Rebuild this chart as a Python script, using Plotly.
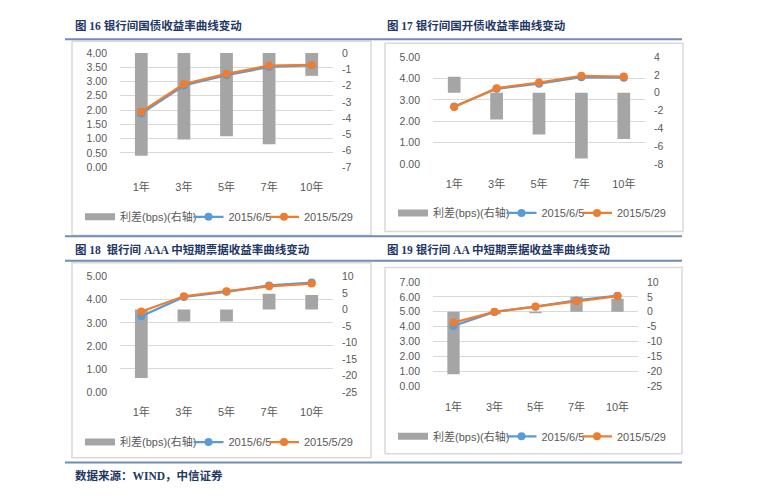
import plotly.graph_objects as go

# page is 761x500; the html body keeps its default 8px margin, so the figure is 745x484
OX, OY = 8, 8
FW, FH = 745, 484


def px(x):
    return (x - OX) / FW


def py(y):
    return 1 - (y - OY) / FH


categories = ["1年", "3年", "5年", "7年", "10年"]
series_names = ["利差(bps)(右轴)", "2015/6/5", "2015/5/29"]

titles = [
    "图 16 银行间国债收益率曲线变动",
    "图 17 银行间国开债收益率曲线变动",
    "图 18  银行间 AAA 中短期票据收益率曲线变动",
    "图 19 银行间 AA 中短期票据收益率曲线变动",
]
source_text = "数据来源：WIND，中信证券"

c16_spread = [-6.3, -5.3, -5.1, -5.6, -1.4]
c16_0605 = [1.88, 2.86, 3.22, 3.51, 3.57]
c16_0529 = [1.94, 2.91, 3.27, 3.56, 3.58]

c17_spread = [1.8, -3.0, -4.7, -7.4, -5.2]
c17_0605 = [2.69, 3.52, 3.76, 4.06, 4.04]
c17_0529 = [2.67, 3.55, 3.81, 4.13, 4.09]

c18_spread = [-20.7, -3.6, -3.6, 4.8, 4.4]
c18_0605 = [3.28, 4.12, 4.34, 4.62, 4.74]
c18_0529 = [3.49, 4.15, 4.37, 4.58, 4.70]

c19_spread = [-20.9, -0.8, -0.5, 5.0, 4.4]
c19_0605 = [4.05, 4.99, 5.34, 5.76, 6.08]
c19_0529 = [4.28, 5.00, 5.35, 5.70, 6.05]

# right-axis tick labels (bps)
c16_right_ticks = [-7, -6, -5, -4, -3, -2, -1, 0]
c17_right_ticks = [-8, -6, -4, -2, 0, 2, 4]
c18_right_ticks = [-25, -20, -15, -10, -5, 0, 5, 10]
c19_right_ticks = [-25, -20, -15, -10, -5, 0, 5, 10]
# left-axis tick labels (%)
c16_left_ticks = [0, 0.5, 1, 1.5, 2, 2.5, 3, 3.5, 4]
c17_left_ticks = [0, 1, 2, 3, 4, 5]
c18_left_ticks = [0, 1, 2, 3, 4, 5]
c19_left_ticks = [0, 1, 2, 3, 4, 5, 6, 7]

data = [
    (c16_spread, c16_0605, c16_0529, c16_left_ticks, c16_right_ticks),
    (c17_spread, c17_0605, c17_0529, c17_left_ticks, c17_right_ticks),
    (c18_spread, c18_0605, c18_0529, c18_left_ticks, c18_right_ticks),
    (c19_spread, c19_0605, c19_0529, c19_left_ticks, c19_right_ticks),
]

# layout geometry in page pixels
panels = [
    dict(px=(120, 333), py=(48, 165), box=(72, 36, 371, 235), title=(73, 20), legend_y=216),
    dict(px=(433, 645), py=(52.3, 161.7), box=(385, 38, 683, 231), title=(385, 20), legend_y=212),
    dict(px=(120, 333), py=(277.3, 395.7), box=(72, 263, 371, 463), title=(73, 249), legend_y=447),
    dict(px=(433, 638), py=(282.7, 390), box=(385, 268, 682, 459), title=(385, 249), legend_y=441),
]
legend_text_offsets = [48, 156.5, 232]  # text start of each legend item from the box's left edge

GRAY = "#595959"
NAVY = "#1F3864"
FONT = "Liberation Sans, Noto Sans CJK SC, sans-serif"
TFONT = "Liberation Serif, Noto Sans CJK SC, serif"

fig = go.Figure()
layout = dict(
    width=FW, height=FH, margin=dict(l=0, r=0, t=0, b=0),
    paper_bgcolor="white", plot_bgcolor="rgba(0,0,0,0)",
    font=dict(family=FONT, color=GRAY, size=10.5),
    showlegend=True, shapes=[], annotations=[],
)

legend_n = 0
for i, (p, (spread, s605, s529, lticks, rticks)) in enumerate(zip(panels, data)):
    k = i + 1
    xa = "x" if k == 1 else f"x{k}"
    yb = f"y{2*k-1}" if k > 1 else "y"
    yl = f"y{2*k}"
    xd = [px(p["px"][0]), px(p["px"][1])]
    yd = [py(p["py"][1]), py(p["py"][0])]
    bx0, by0, bx1, by1 = p["box"]

    lgs = []
    for j in range(3):
        legend_n += 1
        lg = "legend" if legend_n == 1 else f"legend{legend_n}"
        lgs.append(lg)
        layout[lg] = dict(orientation="h", x=px(bx0 + legend_text_offsets[j] - 40),
                          y=py(p["legend_y"]), xanchor="left", yanchor="middle",
                          font=dict(size=11, color=GRAY, family=FONT), itemwidth=30,
                          bgcolor="rgba(0,0,0,0)", borderwidth=0)

    fig.add_trace(go.Bar(x=categories, y=spread, name=series_names[0], xaxis=xa, yaxis=yb,
                         marker=dict(color="#A5A5A5", line=dict(width=0)), width=0.3,
                         showlegend=False, legendgroup=f"g{k}"))
    # legend entry for the bars (wide grey swatch)
    fig.add_trace(go.Scatter(x=categories, y=[None] * len(categories), name=series_names[0],
                             xaxis=xa, yaxis=yb, mode="lines",
                             line=dict(color="#A5A5A5", width=7), legend=lgs[0],
                             legendgroup=f"g{k}"))
    fig.add_trace(go.Scatter(x=categories, y=s605, name=series_names[1], xaxis=xa, yaxis=yl,
                             mode="lines+markers", line=dict(color="#5B9BD5", width=2.25),
                             marker=dict(size=8, color="#5B9BD5"), legend=lgs[1]))
    fig.add_trace(go.Scatter(x=categories, y=s529, name=series_names[2], xaxis=xa, yaxis=yl,
                             mode="lines+markers", line=dict(color="#ED7D31", width=2.25),
                             marker=dict(size=8, color="#ED7D31"), legend=lgs[2]))

    xkey = "xaxis" if k == 1 else f"xaxis{k}"
    ybkey = "yaxis" if k == 1 else f"yaxis{2*k-1}"
    ylkey = f"yaxis{2*k}"
    layout[xkey] = dict(domain=xd, anchor=yb, type="category", range=[-0.5, 4.5],
                        showgrid=False, showline=False, zeroline=False, ticks="",
                        ticklabelstandoff=12, tickfont=dict(size=11, color=GRAY))
    layout[ybkey] = dict(domain=yd, anchor=xa, side="right", range=[rticks[0], rticks[-1]],
                         tickmode="array", tickvals=rticks, ticktext=[str(v) for v in rticks],
                         showgrid=False, zeroline=False, showline=False,
                         ticks="", ticklabelstandoff=8, tickfont=dict(size=10.5, color=GRAY))
    layout[ylkey] = dict(domain=yd, anchor=xa, side="left", overlaying=yb,
                         range=[lticks[0], lticks[-1]], tickmode="array", tickvals=lticks,
                         ticktext=[f"{v:.2f}" for v in lticks], showgrid=True,
                         gridcolor="#D9D9D9", gridwidth=1, zeroline=False, showline=False,
                         ticks="", ticklabelstandoff=12, tickfont=dict(size=10.5, color=GRAY))

    layout["shapes"].append(dict(type="rect", xref="paper", yref="paper",
                                 x0=px(bx0), x1=px(bx1), y0=py(by1), y1=py(by0),
                                 line=dict(color="#D9D9D9", width=1.5), layer="below"))
    tx, ty = p["title"]
    layout["annotations"].append(dict(text="<b>" + titles[i] + "</b>", xref="paper", yref="paper",
                                      x=px(tx), y=py(ty), xanchor="left", yanchor="middle",
                                      showarrow=False,
                                      font=dict(family=TFONT, size=11.5, color=NAVY)))

for yy in [34, 236, 261, 468]:
    layout["shapes"].append(dict(type="line", xref="paper", yref="paper",
                                 x0=px(65), x1=px(682), y0=py(yy), y1=py(yy),
                                 line=dict(color="#6F8DB5", width=2)))

layout["annotations"].append(dict(text="<b>" + source_text + "</b>", xref="paper", yref="paper",
                                  x=px(73), y=py(481), xanchor="left", yanchor="middle",
                                  showarrow=False, font=dict(family=TFONT, size=11.5, color=NAVY)))

fig.update_layout(**layout)
fig.write_html("out.html", config={"displayModeBar": False, "staticPlot": True})
